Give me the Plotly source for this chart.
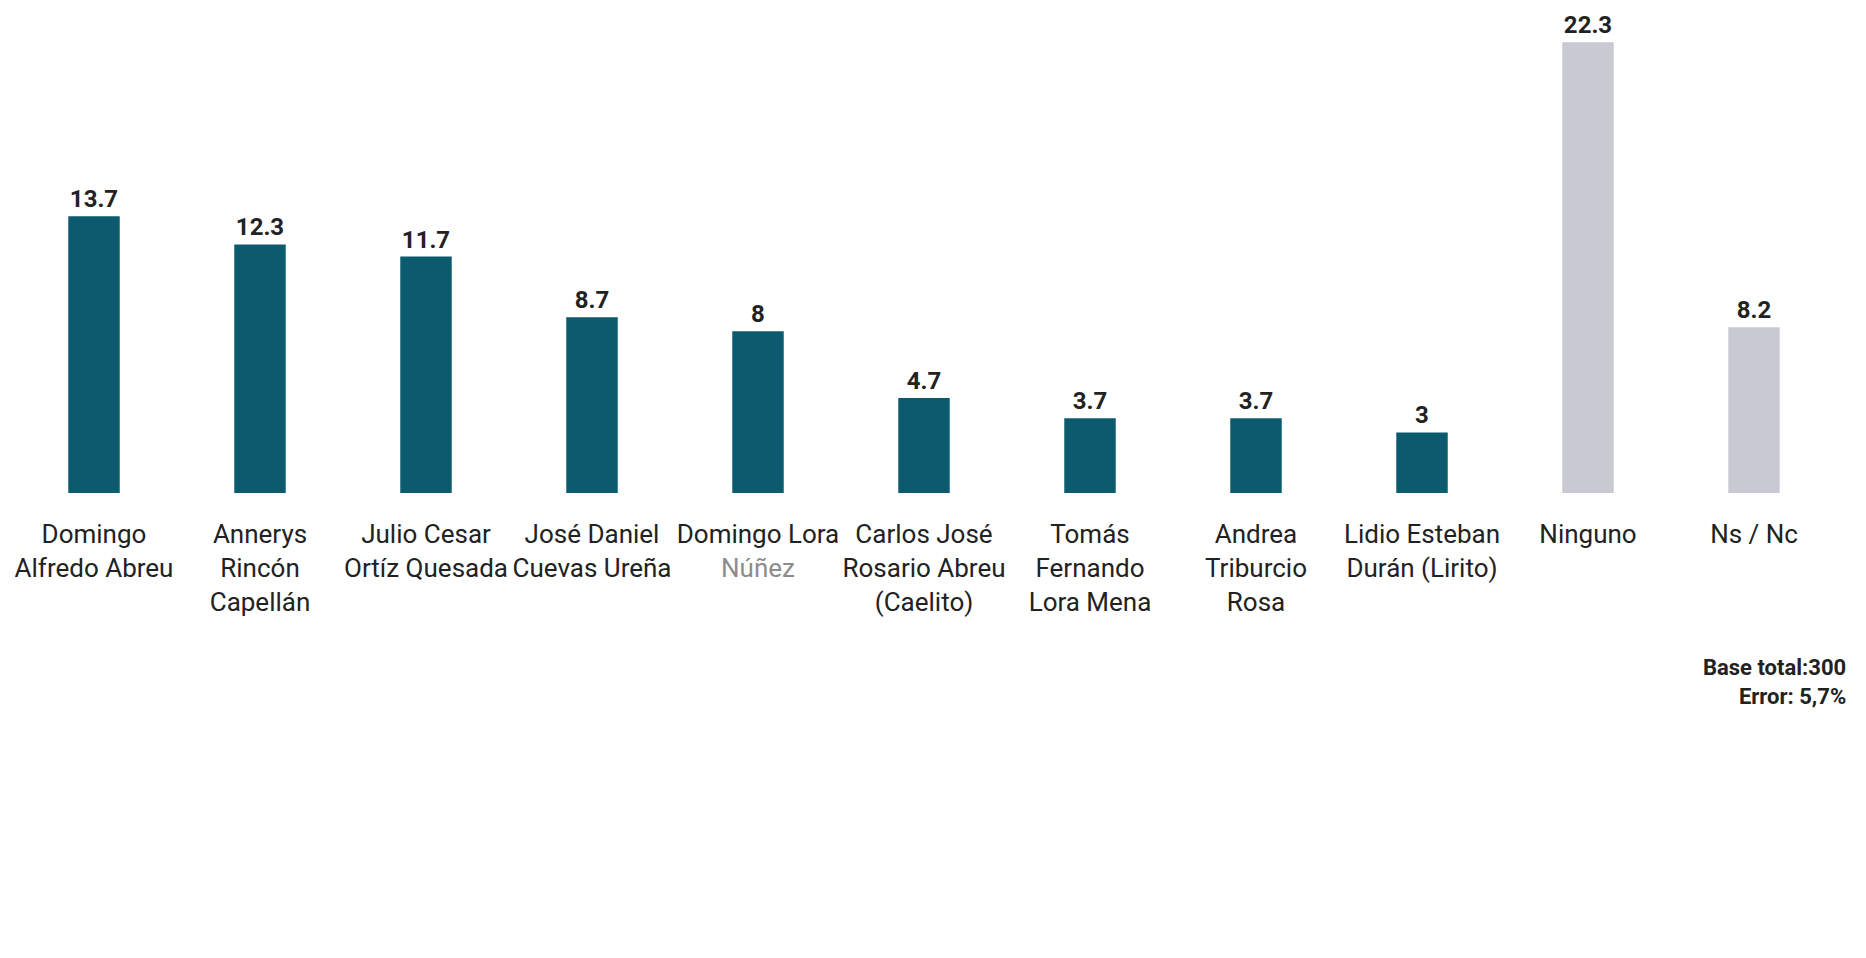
import plotly.graph_objects as go

candidatos = [
    "Domingo<br>Alfredo Abreu",
    "Annerys<br>Rincón<br>Capellán",
    "Julio Cesar<br>Ortíz Quesada",
    "José Daniel<br>Cuevas Ureña",
    "Domingo Lora<br><span style='color:#8c8c8c'>Núñez</span>",
    "Carlos José<br>Rosario Abreu<br>(Caelito)",
    "Tomás<br>Fernando<br>Lora Mena",
    "Andrea<br>Triburcio<br>Rosa",
    "Lidio Esteban<br>Durán (Lirito)",
    "Ninguno",
    "Ns / Nc",
]
porcentajes = [13.7, 12.3, 11.7, 8.7, 8, 4.7, 3.7, 3.7, 3, 22.3, 8.2]
etiquetas = ["13.7", "12.3", "11.7", "8.7", "8", "4.7", "3.7", "3.7", "3", "22.3", "8.2"]

teal = "#0c5a6d"
gris = "#c8c9d2"
colores = [teal] * 9 + [gris] * 2

fuente = "Roboto, sans-serif"

fig = go.Figure(go.Bar(
    x=candidatos,
    y=porcentajes,
    text=etiquetas,
    textposition="outside",
    textfont=dict(family=fuente, size=24, color="#222222", weight="bold"),
    marker=dict(color=colores, line=dict(width=0)),
    width=0.31,
    cliponaxis=False,
))

fig.update_layout(
    width=1866, height=958,
    margin=dict(l=3, r=37, t=0, b=473),
    paper_bgcolor="white", plot_bgcolor="white",
    showlegend=False,
    font=dict(family=fuente, color="#222222"),
    annotations=[dict(
        text="Base total:300<br>Error: 5,7%",
        x=1, xref="paper", xanchor="right", xshift=11,
        y=-0.33, yref="paper", yanchor="top",
        align="right", showarrow=False,
        font=dict(family=fuente, size=22, color="#222222", weight="bold"),
    )],
)
fig.update_xaxes(
    showline=False, showgrid=False, zeroline=False,
    tickfont=dict(family=fuente, size=26, color="#222222"),
    ticks="outside", ticklen=0, ticklabelstandoff=18,
)
fig.update_yaxes(visible=False, range=[0, 24.0])

fig.write_html("out.html")
